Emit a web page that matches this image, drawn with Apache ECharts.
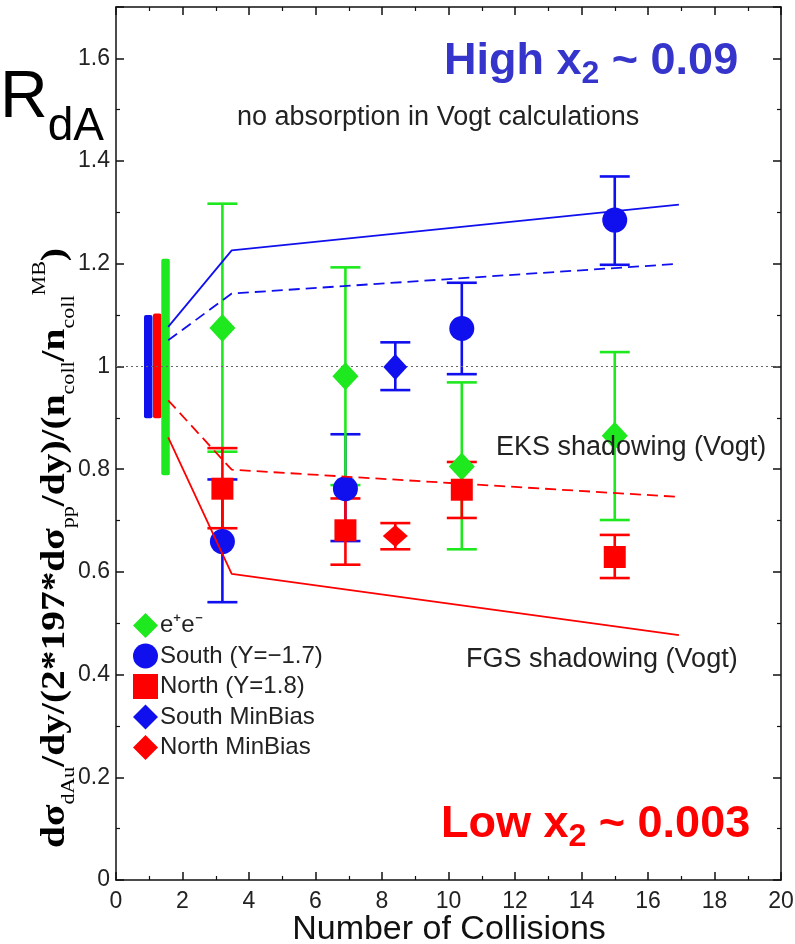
<!DOCTYPE html>
<html>
<head>
<meta charset="utf-8">
<script src="https://cdn.jsdelivr.net/npm/echarts@6/dist/echarts.min.js"></script>
<style>
html,body{margin:0;padding:0;background:#fff;}
#chart{width:795px;height:944px;}
</style>
</head>
<body>
<div id="chart"></div>
<script>
// ---------- data ----------
const xTicks = [0, 2, 4, 6, 8, 10, 12, 14, 16, 18, 20];
const yTicks = [0, 0.2, 0.4, 0.6, 0.8, 1, 1.2, 1.4, 1.6];
const xTitle = 'Number of Collisions';

const legendNames = ['e\u207Ae\u207B', 'South (Y=\u22121.7)', 'North (Y=1.8)', 'South MinBias', 'North MinBias'];

// e+e- (green diamonds)
const eeX  = [3.2, 6.9, 10.4, 15.0];
const eeY  = [1.075, 0.981, 0.805, 0.865];
const eeHi = [1.317, 1.193, 0.969, 1.028];
const eeLo = [0.834, 0.769, 0.644, 0.701];

// South (blue circles)
const southX  = [3.2, 6.9, 10.4, 15.0];
const southY  = [0.659, 0.762, 1.074, 1.285];
const southHi = [0.780, 0.868, 1.163, 1.370];
const southLo = [0.541, 0.660, 0.985, 1.198];

// North (red squares)
const northX  = [3.2, 6.9, 10.4, 15.0];
const northY  = [0.762, 0.681, 0.760, 0.629];
const northHi = [0.841, 0.743, 0.814, 0.672];
const northLo = [0.685, 0.614, 0.705, 0.588];

// MinBias
const southMBX = [8.4], southMBY = [0.999], southMBHi = [1.047], southMBLo = [0.954];
const northMBX = [8.4], northMBY = [0.670], northMBHi = [0.695], northMBLo = [0.644];

// global systematic bars near x~1
const sysX  = [0.97, 1.24, 1.49];
const sysLo = [0.899, 0.899, 0.788];
const sysHi = [1.100, 1.103, 1.210];

// Vogt calculations
const vogtX = [1.57, 3.48, 16.93];
const ekSouth  = [1.051, 1.142, 1.200]; // blue dashed
const fgsSouth = [1.077, 1.226, 1.315]; // blue solid
const ekNorth  = [0.934, 0.799, 0.746]; // red dashed
const fgsNorth = [0.862, 0.596, 0.477]; // red solid

// ---------- styles ----------
const GREEN = '#1ee81e', BLUE = '#1010ee', RED = '#ff0000';
const FONT = '"Liberation Sans", Arial, Helvetica, sans-serif';
const SERIF = '"Liberation Serif", "DejaVu Serif", serif';

function pts(xs, ys) { return xs.map((x, i) => [x, ys[i]]); }
function errs(xs, lo, hi) { return xs.map((x, i) => [x, lo[i], hi[i]]); }

function errorSeries(data, color, z) {
  return {
    type: 'custom', data: data, z: z, silent: true,
    renderItem: function (params, api) {
      const x = api.value(0);
      const pl = api.coord([x, api.value(1)]);
      const ph = api.coord([x, api.value(2)]);
      const w = 15;
      const st = { stroke: color, lineWidth: 2.6 };
      return { type: 'group', children: [
        { type: 'line', shape: { x1: pl[0], y1: pl[1], x2: ph[0], y2: ph[1] }, style: st },
        { type: 'line', shape: { x1: pl[0] - w, y1: pl[1], x2: pl[0] + w, y2: pl[1] }, style: st },
        { type: 'line', shape: { x1: ph[0] - w, y1: ph[1], x2: ph[0] + w, y2: ph[1] }, style: st }
      ]};
    }
  };
}

const sysColors = [BLUE, RED, GREEN];
const sysSeries = {
  type: 'custom', data: errs(sysX, sysLo, sysHi), z: 3, silent: true,
  renderItem: function (params, api) {
    const x = api.value(0);
    const pl = api.coord([x, api.value(1)]);
    const ph = api.coord([x, api.value(2)]);
    const w = 8.5;
    return { type: 'rect', shape: { x: pl[0] - w / 2, y: ph[1], width: w, height: pl[1] - ph[1], r: 2 },
      style: { fill: sysColors[params.dataIndex] } };
  }
};

function lineSeries(ys, color, dashed) {
  return {
    type: 'line', data: pts(vogtX, ys), symbol: 'none', z: 8, silent: true,
    lineStyle: { color: color, width: 1.8, type: dashed ? [11, 6] : 'solid' }
  };
}

const chart = echarts.init(document.getElementById('chart'), null, { renderer: 'canvas' });

const axisCommon = {
  type: 'value',
  axisLine: { show: true, onZero: false, lineStyle: { color: '#111', width: 1.5 } },
  axisTick: { show: true, inside: true, length: 8, lineStyle: { color: '#111', width: 1.5 } },
  minorTick: { show: true, splitNumber: 2, length: 4, lineStyle: { color: '#111', width: 1.2 } },
  splitLine: { show: false }
};

const option = {
  animation: false,
  backgroundColor: '#fff',
  grid: { left: 116, right: 14, top: 7, bottom: 64, outerBoundsMode: 'none', containLabel: false },
  legend: {
    orient: 'vertical', left: 128, top: 608,
    itemWidth: 25, itemHeight: 25, itemGap: 5.5,
    data: legendNames,
    textStyle: { fontFamily: FONT, fontSize: 24, color: '#222', padding: [0, 0, 0, -3] }
  },
  xAxis: [
    Object.assign({}, axisCommon, {
      min: xTicks[0], max: xTicks[xTicks.length - 1], interval: 2, position: 'bottom',
      axisLabel: { fontFamily: FONT, fontSize: 23, color: '#222', margin: 10 }
    }),
    Object.assign({}, axisCommon, {
      min: xTicks[0], max: xTicks[xTicks.length - 1], interval: 2, position: 'top',
      axisLabel: { show: false }
    })
  ],
  yAxis: [
    Object.assign({}, axisCommon, {
      min: 0, max: 1.7, interval: 0.2, position: 'left',
      axisLabel: {
        fontFamily: FONT, fontSize: 23, color: '#222', margin: 6, showMaxLabel: false,
        formatter: function (v) {
          const t = yTicks.find(y => Math.abs(y - v) < 1e-6);
          if (t === undefined) return '';
          return (t === 0 || t === 1) ? String(t) : t.toFixed(1);
        }
      }
    }),
    Object.assign({}, axisCommon, {
      min: 0, max: 1.7, interval: 0.2, position: 'right',
      axisLabel: { show: false }
    })
  ],
  graphic: [
    { type: 'text', x: 449, y: 930, z: 100,
      style: { text: xTitle, fontFamily: FONT, fontSize: 34, fill: '#111', align: 'center', verticalAlign: 'middle' } },
    { type: 'text', left: 0, top: 66, z: 100,
      style: { text: '{r|R}{s|dA}', rich: {
        r: { fontFamily: FONT, fontSize: 66, fill: '#000', lineHeight: 84, verticalAlign: 'top' },
        s: { fontFamily: FONT, fontSize: 46, fill: '#000', lineHeight: 84, verticalAlign: 'bottom' }
      } } },
    { type: 'text', x: 55, y: 548, rotation: Math.PI / 2, scaleX: 1.16, z: 100,
      style: {
        text: '{m|d\u03C3}{s|dAu}{m|/dy/(2*197*d\u03C3}{s|pp}{m|/dy)/(n}{s|coll}{m|/n}{s|coll}{u|MB}{m|)}',
        align: 'center', verticalAlign: 'middle',
        rich: {
          m: { fontFamily: SERIF, fontSize: 34, fontWeight: 'bold', fill: '#000', lineHeight: 48, verticalAlign: 'middle' },
          s: { fontFamily: SERIF, fontSize: 19, fill: '#000', lineHeight: 48, verticalAlign: 'bottom' },
          u: { fontFamily: SERIF, fontSize: 19, fill: '#000', lineHeight: 48, verticalAlign: 'top' }
        }
      } },
    { type: 'text', left: 444, top: 39, z: 100,
      style: { text: '{b|High x}{s|2}{b| ~ 0.09}', rich: {
        b: { fontFamily: FONT, fontSize: 45, fontWeight: 'bold', fill: '#3535cc', lineHeight: 58, verticalAlign: 'middle' },
        s: { fontFamily: FONT, fontSize: 32, fontWeight: 'bold', fill: '#3535cc', lineHeight: 58, verticalAlign: 'bottom' }
      } } },
    { type: 'text', left: 441, top: 802, z: 100,
      style: { text: '{b|Low x}{s|2}{b| ~ 0.003}', rich: {
        b: { fontFamily: FONT, fontSize: 45, fontWeight: 'bold', fill: '#ff0000', lineHeight: 58, verticalAlign: 'middle' },
        s: { fontFamily: FONT, fontSize: 32, fontWeight: 'bold', fill: '#ff0000', lineHeight: 58, verticalAlign: 'bottom' }
      } } },
    { type: 'text', left: 237, top: 104, z: 100,
      style: { text: 'no absorption in Vogt calculations', fontFamily: FONT, fontSize: 27, fill: '#222' } },
    { type: 'text', left: 496, top: 434, z: 100,
      style: { text: 'EKS shadowing (Vogt)', fontFamily: FONT, fontSize: 27, fill: '#222' } },
    { type: 'text', left: 466, top: 646, z: 100,
      style: { text: 'FGS shadowing (Vogt)', fontFamily: FONT, fontSize: 27, fill: '#222' } }
  ],
  series: [
    { type: 'line', data: [], silent: true, z: 1,
      markLine: { silent: true, symbol: 'none', label: { show: false },
        lineStyle: { color: '#666', type: [2, 3], width: 1 },
        data: [{ yAxis: 1 }] } },
    sysSeries,
    errorSeries(errs(southX, southLo, southHi), BLUE, 4),
    errorSeries(errs(eeX, eeLo, eeHi), GREEN, 4),
    errorSeries(errs(northX, northLo, northHi), RED, 4),
    errorSeries(errs(southMBX, southMBLo, southMBHi), BLUE, 4),
    errorSeries(errs(northMBX, northMBLo, northMBHi), RED, 4),
    { name: legendNames[0], type: 'scatter', data: pts(eeX, eeY), symbol: 'diamond', symbolSize: [26, 28], z: 6,
      itemStyle: { color: GREEN, opacity: 1 } },
    { name: legendNames[1], type: 'scatter', data: pts(southX, southY), symbol: 'circle', symbolSize: 25, z: 6,
      itemStyle: { color: BLUE, opacity: 1 } },
    { name: legendNames[2], type: 'scatter', data: pts(northX, northY), symbol: 'rect', symbolSize: 22, z: 6,
      itemStyle: { color: RED, opacity: 1 } },
    { name: legendNames[3], type: 'scatter', data: pts(southMBX, southMBY), symbol: 'diamond', symbolSize: [24, 26], z: 6,
      itemStyle: { color: BLUE, opacity: 1 } },
    { name: legendNames[4], type: 'scatter', data: pts(northMBX, northMBY), symbol: 'diamond', symbolSize: [25, 22], z: 6,
      itemStyle: { color: RED, opacity: 1 } },
    lineSeries(fgsSouth, BLUE, false),
    lineSeries(ekSouth, BLUE, true),
    lineSeries(ekNorth, RED, true),
    lineSeries(fgsNorth, RED, false)
  ]
};
chart.setOption(option);
</script>
</body>
</html>
